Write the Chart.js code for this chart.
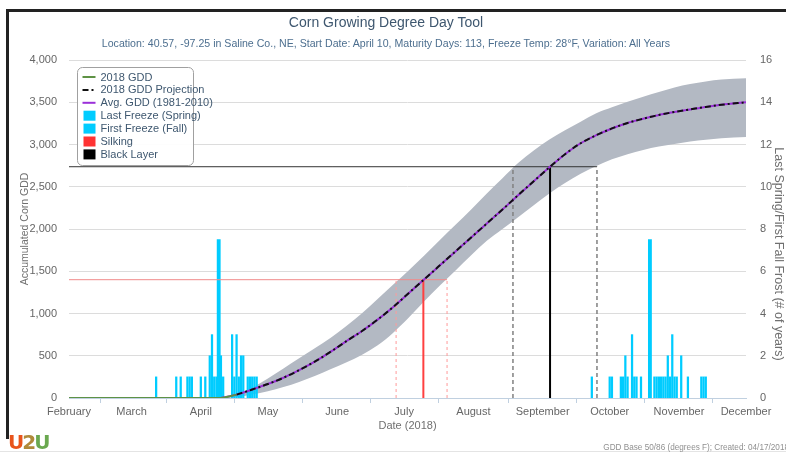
<!DOCTYPE html>
<html>
<head>
<meta charset="utf-8">
<script src="https://cdn.jsdelivr.net/npm/chart.js@4.4.1/dist/chart.umd.min.js"></script>
<style>
    html, body { margin: 0; padding: 0; background: #fff; }
    #wrap { position: relative; width: 786px; height: 453px; overflow: hidden; font-family: "Liberation Sans", Arial, sans-serif; }
    #frame { position: absolute; left: 6px; top: 9px; right: -4px; bottom: 14px; border-top: 3px solid #222; border-left: 3px solid #222; }
    #bottom-line { position: absolute; left: 0; right: 0; top: 451px; height: 1px; background: #e4e4e4; }
    #title { position: absolute; left: 0; width: 772px; top: 14px; text-align: center; font-size: 14px; color: #3e576f; }
    #subtitle { position: absolute; left: 0; width: 772px; top: 37px; text-align: center; font-size: 10.6px; color: #4d6f8f; }
    #right-title { position: absolute; left: 779px; top: 254px; transform: translate(-50%, -50%) rotate(90deg);
        font-size: 12.5px; color: #707070; white-space: nowrap; }
    #credit { position: absolute; right: -3px; top: 443px; font-size: 8.2px; color: #909090; white-space: nowrap; }
    #logo { position: absolute; left: 8px; top: 430px; font: bold 20px "DejaVu Sans", sans-serif; letter-spacing: -2px; line-height: 24px; }
    canvas { position: absolute; left: 0; top: 0; }
</style>
</head>
<body>
<div id="wrap">
    <canvas id="gddChart" width="786" height="453"></canvas>
    <div id="frame"></div>
    <div id="bottom-line"></div>
    <div id="title">Corn Growing Degree Day Tool</div>
    <div id="subtitle">Location: 40.57, -97.25 in Saline Co., NE, Start Date: April 10, Maturity Days: 113, Freeze Temp: 28°F, Variation: All Years</div>
    <div id="right-title">Last Spring/First Fall Frost (# of years)</div>
    <div id="credit">GDD Base 50/86 (degrees F); Created: 04/17/2018</div>
    <div id="logo"><span style="color:#e8541c">U</span><span style="color:#b08a3a">2</span><span style="color:#6aa84f">U</span></div>
</div>
<script>
// x values are days after February 1, 2018
const monthDays = [0, 28, 59, 89, 120, 150, 181, 212, 242, 273, 303];
const monthNames = ['February', 'March', 'April', 'May', 'June', 'July', 'August', 'September', 'October', 'November', 'December'];

const seasonDays = [68, 75, 82, 89, 96, 103, 110, 117, 124, 131, 138, 145, 152, 159, 166, 173, 180, 187, 194, 201,
    208, 215, 222, 229, 236, 243, 250, 257, 264, 271, 278, 285, 292, 303];
const avgGdd = [0, 40, 100, 165, 240, 330, 430, 545, 670, 790, 925, 1075, 1240, 1405, 1570, 1735, 1900, 2065, 2230, 2400,
    2565, 2730, 2885, 3015, 3110, 3190, 3255, 3305, 3350, 3385, 3415, 3445, 3470, 3500];
const maxGdd = [0, 30, 120, 230, 350, 470, 590, 710, 850, 1000, 1170, 1340, 1510, 1685, 1870, 2050, 2230, 2420, 2600, 2780,
    2930, 3060, 3170, 3270, 3370, 3440, 3505, 3565, 3620, 3675, 3715, 3745, 3768, 3785];
const minGdd = [0, 10, 40, 80, 130, 190, 260, 340, 420, 510, 620, 770, 950, 1145, 1330, 1510, 1690, 1860, 2000, 2140,
    2280, 2420, 2545, 2655, 2745, 2825, 2885, 2935, 2975, 3005, 3035, 3057, 3075, 3090];

const gdd2018Days = [0, 68, 70, 72, 75];
const gdd2018 = [0, 0, 8, 20, 40];

const springDays = [39, 48, 50, 53, 54, 55, 59, 61, 63, 64, 65, 66, 68, 69, 73, 74, 75, 76, 77, 78, 80, 81, 82, 83, 84];
const springYears = [1, 1, 1, 1, 1, 1, 1, 1, 2, 3, 1, 1, 2, 1, 3, 1, 3, 1, 2, 2, 1, 1, 1, 1, 1];
const fallDays = [234, 242, 243, 247, 248, 249, 250, 252, 253, 254, 256, 262, 263, 264, 265, 266, 267, 268, 269, 270,
    271, 272, 274, 277, 283, 284, 285];
const fallYears = [1, 1, 1, 1, 1, 2, 1, 3, 1, 1, 1, 1, 1, 1, 1, 1, 1, 2, 1, 3, 1, 1, 2, 1, 1, 1, 1];
// the two tallest counts show as wider columns
const peakDays = [67, 260];
const peakYears = [7.5, 7.5];

// earliest, average, latest
const silkingDays = [146.4, 158.6, 169.2];
const silkingGdd = 1400;
const blackLayerDays = [198.7, 215.3, 236.3];
const blackLayerGdd = 2737;

const pts = (xs, ys) => xs.map((x, i) => ({ x, y: ys[i] }));
const vline = (d, top) => [{ x: d, y: 0 }, { x: d, y: top }];

const FROST = '#00ccff';

const line = (extra) => Object.assign({
    type: 'line', pointRadius: 0, borderWidth: 1, fill: false, yAxisID: 'y'
}, extra);

const bars = (label, data, thickness, kind) => ({
    type: 'bar', label, data, yAxisID: 'y1', backgroundColor: FROST,
    barThickness: thickness, grouped: false, order: 4, legendKind: kind
});

// custom legend box drawn inside the plot area
const legendBox = {
    id: 'legendBox',
    afterDraw(chart) {
        const { ctx, chartArea } = chart;
        const items = chart.data.datasets.filter(d => d.legendKind);
        const x = chartArea.left + 8.5, y = chartArea.top + 7.5;
        ctx.save();
        ctx.beginPath();
        ctx.roundRect(x, y, 116, 98, 5);
        ctx.fillStyle = 'rgba(255,255,255,0.92)';
        ctx.fill();
        ctx.strokeStyle = '#a0a0a0';
        ctx.lineWidth = 1;
        ctx.stroke();
        ctx.font = '11px "Liberation Sans", Arial, sans-serif';
        ctx.textBaseline = 'middle';
        items.forEach((d, i) => {
            const cy = y + 9.5 + i * 12.9;
            if (d.legendKind === 'line') {
                ctx.beginPath();
                ctx.setLineDash(d.borderDash || []);
                ctx.strokeStyle = d.borderColor;
                ctx.lineWidth = 2;
                ctx.moveTo(x + 5, cy);
                ctx.lineTo(x + 18, cy);
                ctx.stroke();
                ctx.setLineDash([]);
            } else {
                ctx.fillStyle = d.legendColor || d.backgroundColor;
                ctx.fillRect(x + 6, cy - 5, 12, 10);
            }
            ctx.fillStyle = '#3e576f';
            ctx.fillText(d.label, x + 23, cy + 0.5);
        });
        ctx.restore();
    }
};

const datasets = [
    line({ label: '2018 GDD', data: pts(gdd2018Days, gdd2018), borderColor: '#5e9245', borderWidth: 2, order: 0, legendKind: 'line' }),
    line({ label: '2018 GDD Projection', data: pts(seasonDays.slice(1), avgGdd.slice(1)), borderColor: '#111', borderWidth: 2,
        borderDash: [6, 3, 2, 3], cubicInterpolationMode: 'monotone', order: 1, legendKind: 'line' }),
    line({ label: 'Avg. GDD (1981-2010)', data: pts(seasonDays, avgGdd), borderColor: '#9b30d9', borderWidth: 2,
        cubicInterpolationMode: 'monotone', order: 2, legendKind: 'line' }),
    bars('Last Freeze (Spring)', pts(springDays, springYears), 1.6, 'box'),
    bars('First Freeze (Fall)', pts(fallDays, fallYears), 1.6, 'box'),
    bars('peaks', pts(peakDays, peakYears), 3.2, null),
    line({ label: 'Silking', data: vline(silkingDays[1], silkingGdd), borderColor: '#ff4040', borderWidth: 2, order: 3,
        legendKind: 'box', legendColor: '#ff3333' }),
    line({ label: 'Black Layer', data: vline(blackLayerDays[1], blackLayerGdd), borderColor: '#000', borderWidth: 2, order: 3,
        legendKind: 'box', legendColor: '#000' }),
    line({ data: [{ x: 0, y: silkingGdd }, { x: silkingDays[2], y: silkingGdd }], borderColor: '#f08a8a', order: 3 }),
    line({ data: vline(silkingDays[0], silkingGdd), borderColor: '#ff9a9a', borderDash: [3, 3], order: 3 }),
    line({ data: vline(silkingDays[2], silkingGdd), borderColor: '#ff9a9a', borderDash: [3, 3], order: 3 }),
    line({ data: [{ x: 0, y: blackLayerGdd }, { x: blackLayerDays[2], y: blackLayerGdd }], borderColor: '#333', order: 3 }),
    line({ data: vline(blackLayerDays[0], blackLayerGdd), borderColor: '#808080', borderWidth: 1.5, borderDash: [4, 3], order: 3 }),
    line({ data: vline(blackLayerDays[2], blackLayerGdd), borderColor: '#808080', borderWidth: 1.5, borderDash: [4, 3], order: 3 }),
    line({ data: pts(seasonDays, minGdd), borderWidth: 0, borderColor: 'rgba(0,0,0,0)', cubicInterpolationMode: 'monotone', order: 5 }),
    line({ data: pts(seasonDays, maxGdd), borderWidth: 0, borderColor: 'rgba(0,0,0,0)', cubicInterpolationMode: 'monotone', order: 5,
        fill: '-1', backgroundColor: '#b3b9c3' })
];

const tickFont = { family: '"Liberation Sans", Arial, sans-serif', size: 11 };
const titleFont = { family: '"Liberation Sans", Arial, sans-serif', size: 11 };

new Chart(document.getElementById('gddChart'), {
    type: 'line',
    data: { datasets },
    options: {
        responsive: false,
        animation: false,
        devicePixelRatio: 1,
        events: [],
        layout: { padding: { left: 9, right: 0, top: 60, bottom: 10 } },
        plugins: { legend: { display: false }, tooltip: { enabled: false }, title: { display: false } },
        scales: {
            x: {
                type: 'linear', min: 0, max: 303, offset: false,
                afterBuildTicks: (scale) => { scale.ticks = monthDays.map(v => ({ value: v })); },
                afterFit: (scale) => { scale.height = 45; },
                ticks: {
                    autoSkip: false, maxRotation: 0, color: '#666', font: tickFont, padding: 2,
                    callback: (v) => monthNames[monthDays.indexOf(v)]
                },
                grid: { drawOnChartArea: false, color: '#c0d0e0', tickLength: 5 },
                border: { color: '#c0d0e0' },
                title: { display: true, text: 'Date (2018)', color: '#707070', font: titleFont, padding: { top: 0, bottom: 10 } }
            },
            y: {
                position: 'left', min: 0, max: 4000,
                afterFit: (scale) => { scale.width = 60; },
                ticks: { stepSize: 500, color: '#666', font: tickFont, padding: 12,
                    callback: (v) => v.toLocaleString('en-US') },
                grid: { color: '#dcdcdc', drawTicks: false },
                border: { display: false },
                title: { display: true, text: 'Accumulated Corn GDD', color: '#707070',
                    font: { family: titleFont.family, size: 10.5 }, padding: { top: 9.5, bottom: 0 } }
            },
            y1: {
                position: 'right', min: 0, max: 16,
                afterFit: (scale) => { scale.width = 40; },
                ticks: { stepSize: 2, color: '#666', font: tickFont, padding: 14 },
                grid: { display: false, drawTicks: false },
                border: { display: false }
            }
        }
    },
    plugins: [legendBox]
});
</script>
</body>
</html>
